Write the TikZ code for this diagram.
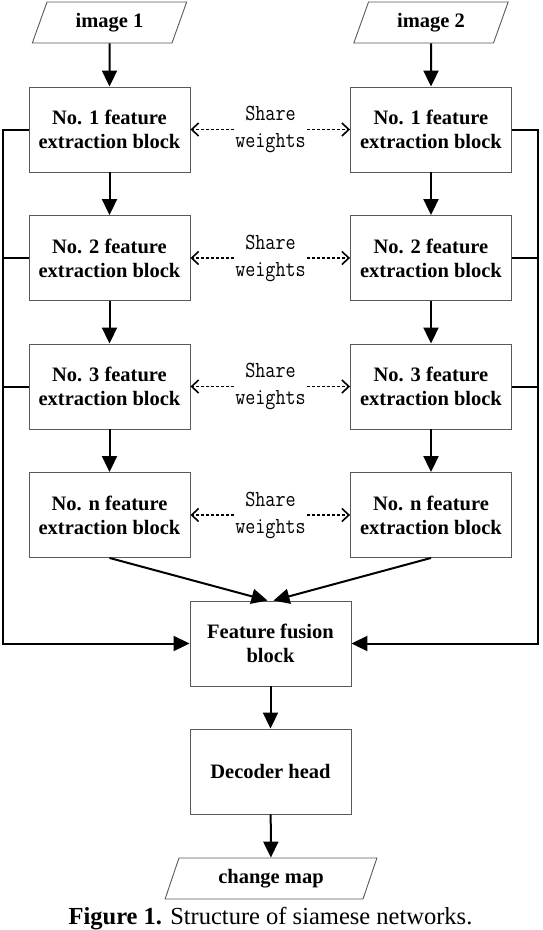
\documentclass[tikz,border=0pt]{standalone}
\usepackage{fontspec}
\setmainfont{Liberation Serif}
\usetikzlibrary{shapes.geometric,arrows.meta}
\newcommand{\narrowtt}[1]{\scalebox{0.85}[1]{#1}}
\tikzset{
  block/.style={draw=black!65, line width=0.9pt, minimum width=161pt, minimum height=85pt,
    inner sep=0pt, align=center, font=\fontsize{20.5}{24}\selectfont\bfseries},
  io/.style={draw=black!65, line width=0.9pt, trapezium, trapezium left angle=67,
    trapezium right angle=113, trapezium stretches=true, minimum width=155pt,
    minimum height=41pt, inner sep=0pt, font=\fontsize{20.5}{24}\selectfont\bfseries},
  sharelbl/.style={align=center, inner xsep=1pt, font=\fontsize{23}{27}\selectfont\ttfamily},
  arr/.style={line width=2pt, -{Triangle[length=16pt,width=15pt]}},
  bus/.style={line width=2pt},
  wt/.style={line width=1.6pt, dash pattern=on 3pt off 2pt, -{Straight Barb[length=7pt,width=13pt]}}
}
\begin{document}
\begin{tikzpicture}[x=1pt,y=-1pt]
        \useasboundingbox (0,0) rectangle (542,930);
        % inputs
        \node[io] (in1) at (109.5,22.5) {image 1};
        \node[io] (in2) at (431,22.5) {image 2};
        % left branch
        \node[block] (a1) at (109.5,129.5) {No. 1 feature\\extraction block};
        \node[block] (a2) at (109.5,258) {No. 2 feature\\extraction block};
        \node[block] (a3) at (109.5,386.5) {No. 3 feature\\extraction block};
        \node[block] (an) at (109.5,515) {No. n feature\\extraction block};
        % right branch
        \node[block] (b1) at (431,129.5) {No. 1 feature\\extraction block};
        \node[block] (b2) at (431,258) {No. 2 feature\\extraction block};
        \node[block] (b3) at (431,386.5) {No. 3 feature\\extraction block};
        \node[block] (bn) at (431,515) {No. n feature\\extraction block};
        % shared weights
        \node[sharelbl] (s1) at (270.5,129.5) {\narrowtt{Share}\\\narrowtt{weights}};
        \node[sharelbl] (s2) at (270.5,258) {\narrowtt{Share}\\\narrowtt{weights}};
        \node[sharelbl] (s3) at (270.5,386.5) {\narrowtt{Share}\\\narrowtt{weights}};
        \node[sharelbl] (sn) at (270.5,515) {\narrowtt{Share}\\\narrowtt{weights}};
        % fusion and head
        \node[block] (fuse) at (270.5,643.5) {Feature fusion\\block};
        \node[block] (dec) at (270.5,771.5) {Decoder head};
        \node[io, minimum width=212pt] (out) at (271,878.5) {change map};
        \node[anchor=base, inner sep=0pt, font=\fontsize{24.5}{29}\selectfont] (cap) at (270.5,924.5)
            {\textbf{Figure 1.} Structure of siamese networks.};
        \coordinate (lbus) at (3,129.5);
        \coordinate (rbus) at (538,129.5);

        \draw[arr] (in1) -- (a1);
        \draw[arr] (a1) -- (a2);
        \draw[arr] (a2) -- (a3);
        \draw[arr] (a3) -- (an);
        \draw[arr] (in2) -- (b1);
        \draw[arr] (b1) -- (b2);
        \draw[arr] (b2) -- (b3);
        \draw[arr] (b3) -- (bn);

        \draw[wt] (s1.west) -- (a1.east);
        \draw[wt] (s1.east) -- (b1.west);
        \draw[wt] (s2.west) -- (a2.east);
        \draw[wt] (s2.east) -- (b2.west);
        \draw[wt] (s3.west) -- (a3.east);
        \draw[wt] (s3.east) -- (b3.west);
        \draw[wt] (sn.west) -- (an.east);
        \draw[wt] (sn.east) -- (bn.west);

        \draw[arr] (a1.west) -- (lbus) |- (fuse.west);
        \draw[bus] (a2.west) -- (a2.west -| lbus);
        \draw[bus] (a3.west) -- (a3.west -| lbus);
        \draw[arr] (b1.east) -- (rbus) |- (fuse.east);
        \draw[bus] (b2.east) -- (b2.east -| rbus);
        \draw[bus] (b3.east) -- (b3.east -| rbus);

        \draw[arr] (an.south) -- ([xshift=-3pt]fuse.north);
        \draw[arr] (bn.south) -- ([xshift=3pt]fuse.north);
        \draw[arr] (fuse) -- (dec);
        \draw[arr] (dec) -- (out);
\end{tikzpicture}
\end{document}
